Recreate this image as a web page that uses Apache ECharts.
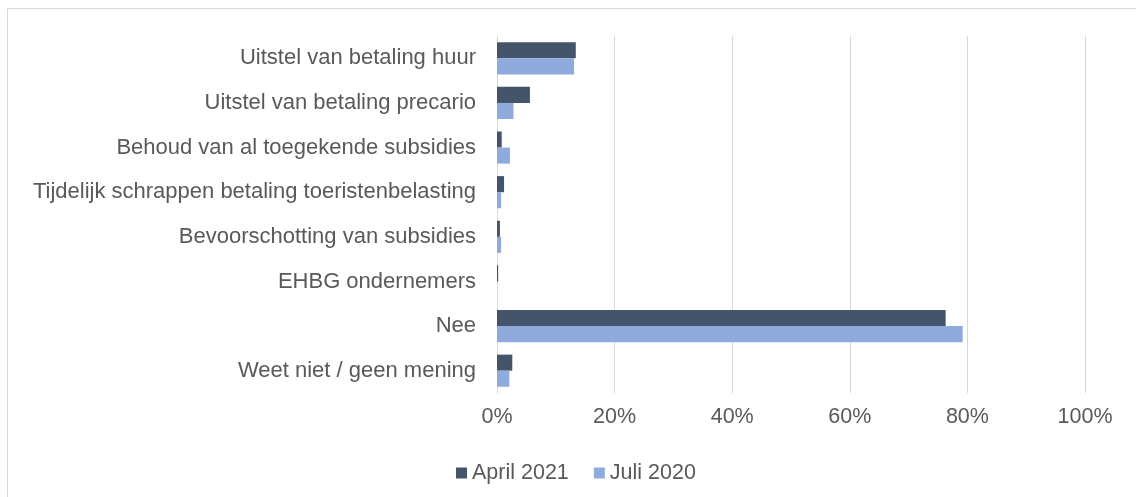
<!DOCTYPE html>
<html>
<head>
<meta charset="utf-8">
<script src="https://cdn.jsdelivr.net/npm/echarts@6/dist/echarts.min.js"></script>
<style>
html,body{margin:0;padding:0;background:#fff;}
#c{width:1136px;height:497px;}
</style>
</head>
<body>
<div id="c"></div>
<script>
const categories = [
  "Uitstel van betaling huur",
  "Uitstel van betaling precario",
  "Behoud van al toegekende subsidies",
  "Tijdelijk schrappen betaling toeristenbelasting",
  "Bevoorschotting van subsidies",
  "EHBG ondernemers",
  "Nee",
  "Weet niet / geen mening"
];
const april2021 = [13.4, 5.6, 0.8, 1.2, 0.5, 0.2, 76.3, 2.6];
const juli2020 = [13.1, 2.8, 2.2, 0.7, 0.7, 0.0, 79.2, 2.1];
const seriesNames = ["April 2021", "Juli 2020"];
const xTicks = [0, 20, 40, 60, 80, 100];

const chart = echarts.init(document.getElementById('c'), null, {renderer: 'canvas'});
const font = 'Liberation Sans, Arial, sans-serif';
chart.setOption({
  animation: false,
  backgroundColor: '#fff',
  graphic: [
    {type: 'line', shape: {x1: 7.5, y1: 8.5, x2: 1136, y2: 8.5}, style: {stroke: '#d9d9d9', lineWidth: 1}, silent: true},
    {type: 'line', shape: {x1: 7.5, y1: 8.5, x2: 7.5, y2: 497}, style: {stroke: '#d9d9d9', lineWidth: 1}, silent: true}
  ],
  grid: {left: 497, right: 51, top: 36, bottom: 104, containLabel: false},
  legend: {
    data: seriesNames,
    top: 457,
    left: 451,
    itemWidth: 11, itemHeight: 11,
    itemGap: 25,
    icon: 'rect',
    textStyle: {color: '#595959', fontSize: 21.5, fontFamily: font, padding: [0,0,0,0]}
  },
  xAxis: {
    type: 'value',
    min: 0, max: 100, interval: 20,
    axisLabel: {color: '#595959', fontSize: 21.5, fontFamily: font, formatter: v => v + '%', margin: 13},
    splitLine: {show: true, lineStyle: {color: '#d9d9d9', width: 1}},
    axisLine: {show: false},
    axisTick: {show: false}
  },
  yAxis: {
    type: 'category',
    data: categories,
    inverse: true,
    axisLabel: {color: '#595959', fontSize: 22, fontFamily: font, margin: 21},
    axisLine: {show: true, lineStyle: {color: '#d9d9d9', width: 1}},
    axisTick: {show: false}
  },
  series: [
    {name: seriesNames[0], type: 'bar', data: april2021, barGap: '0%', barCategoryGap: '28%',
     itemStyle: {color: '#44546A'}},
    {name: seriesNames[1], type: 'bar', data: juli2020, barGap: '0%', barCategoryGap: '28%',
     itemStyle: {color: '#8FAADC'}}
  ]
});
</script>
</body>
</html>
